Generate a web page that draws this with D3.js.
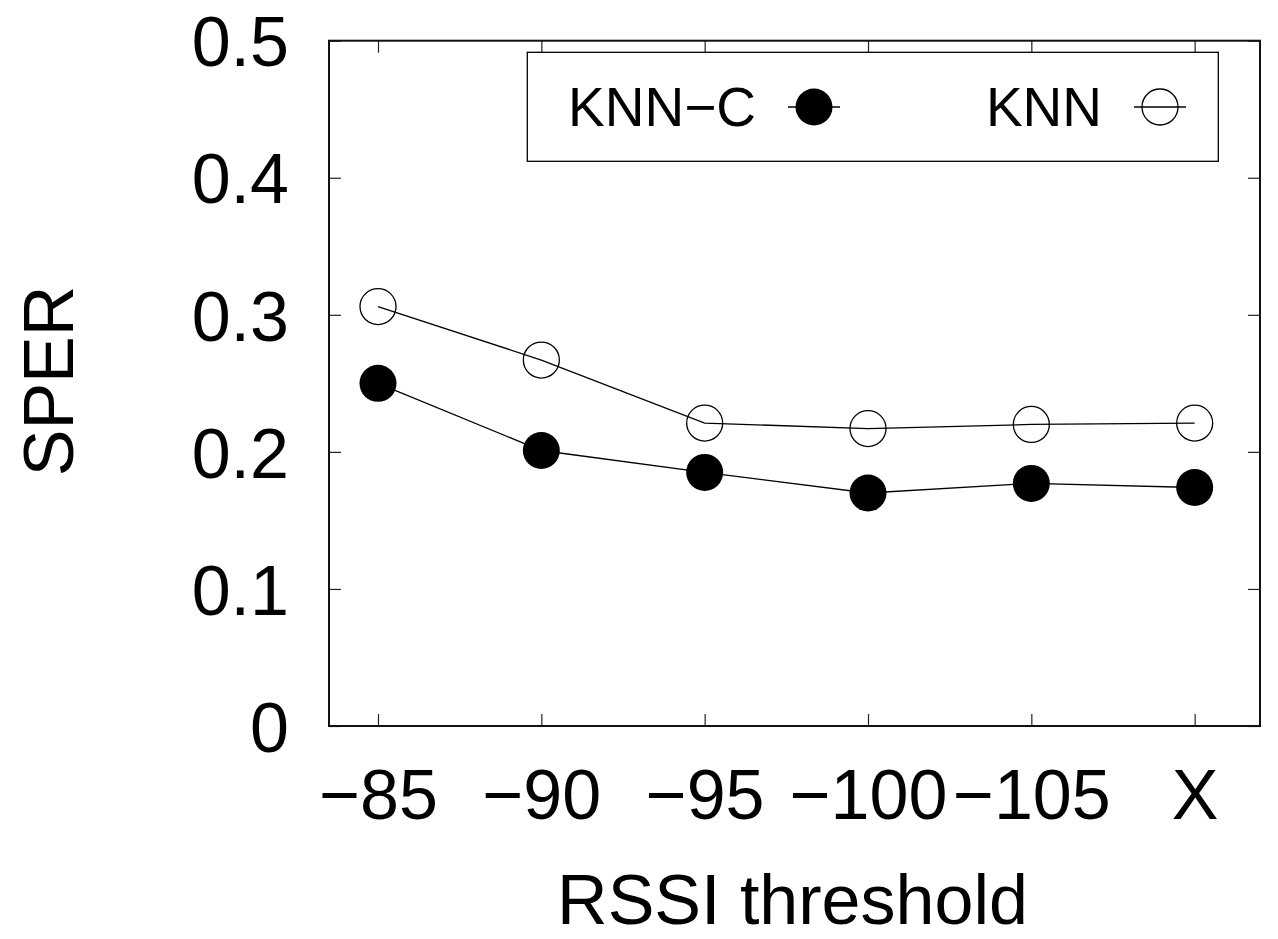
<!DOCTYPE html>
<html>
<head>
<meta charset="utf-8">
<script src="https://cdn.jsdelivr.net/npm/d3@7"></script>
<style>
  body { margin: 0; background: #fff; }
  svg { display: block; font-family: "Liberation Sans", Arial, sans-serif; }
</style>
</head>
<body>
<svg id="chart" width="1278" height="939"></svg>
<script>
// categories along x (RSSI thresholds)
const thresholds = ['\u221285', '\u221290', '\u221295', '\u2212100', '\u2212105', 'X'];
// SPER values
const knnC = [0.250, 0.201, 0.185, 0.170, 0.177, 0.174];
const knn = [0.306, 0.267, 0.221, 0.217, 0.220, 0.221];
const yTicks = [0, 0.1, 0.2, 0.3, 0.4, 0.5];
const seriesNames = ['KNN\u2212C', 'KNN'];

const plotLeft = 329, plotRight = 1260, plotTop = 40.7, plotBottom = 726;

const svg = d3.select('#chart');

const x = d3.scaleLinear().domain([-0.3, 5.4]).range([plotLeft, plotRight]);
const y = d3.scaleLinear().domain([0, 0.5]).range([plotBottom, plotTop]);
const idx = thresholds.map((_, i) => i);

function styleAxis(g) {
  g.select('.domain').remove();
  g.selectAll('.tick line').attr('stroke', '#222').attr('stroke-width', 1.2);
}

// bottom axis with labels
svg.append('g')
  .attr('transform', `translate(0,${plotBottom})`)
  .call(d3.axisBottom(x).tickValues(idx).tickSize(-12).tickFormat((i) => thresholds[i]))
  .call(styleAxis)
  .call((g) => g.selectAll('.tick text')
    .attr('y', 93).attr('dy', 0)
    .attr('font-size', 70).attr('fill', '#000'));

// top mirror ticks
svg.append('g')
  .attr('transform', `translate(0,${plotTop})`)
  .call(d3.axisTop(x).tickValues(idx).tickSize(-12).tickFormat(''))
  .call(styleAxis);

// left axis with labels
svg.append('g')
  .attr('transform', `translate(${plotLeft},0)`)
  .call(d3.axisLeft(y).tickValues(yTicks).tickSize(-12).tickFormat(d3.format('')))
  .call(styleAxis)
  .call((g) => g.selectAll('.tick text')
    .attr('x', -40).attr('dy', '0.36em')
    .attr('font-size', 70).attr('fill', '#000'));

// right mirror ticks
svg.append('g')
  .attr('transform', `translate(${plotRight},0)`)
  .call(d3.axisRight(y).tickValues(yTicks).tickSize(-12).tickFormat(''))
  .call(styleAxis);

// frame
svg.append('rect')
  .attr('x', plotLeft).attr('y', plotTop)
  .attr('width', plotRight - plotLeft).attr('height', plotBottom - plotTop)
  .attr('fill', 'none').attr('stroke', '#111').attr('stroke-width', 2);

// axis titles
svg.append('text')
  .attr('x', (plotLeft + plotRight) / 2 - 2).attr('y', 924)
  .attr('text-anchor', 'middle').attr('font-size', 70)
  .text('RSSI threshold');

svg.append('text')
  .attr('transform', 'translate(73,381) rotate(-90)')
  .attr('text-anchor', 'middle').attr('font-size', 70)
  .text('SPER');

// series lines
const line = d3.line().x((d, i) => x(i)).y((d) => y(d));

svg.append('path').datum(knn)
  .attr('d', line).attr('fill', 'none')
  .attr('stroke', '#000').attr('stroke-width', 1.3);
svg.append('path').datum(knnC)
  .attr('d', line).attr('fill', 'none')
  .attr('stroke', '#000').attr('stroke-width', 1.3);

// markers
svg.append('g').selectAll('circle')
  .data(knn).enter().append('circle')
  .attr('cx', (d, i) => x(i)).attr('cy', (d) => y(d)).attr('r', 18)
  .attr('fill', 'none').attr('stroke', '#000').attr('stroke-width', 1.3);

svg.append('g').selectAll('circle')
  .data(knnC).enter().append('circle')
  .attr('cx', (d, i) => x(i)).attr('cy', (d) => y(d)).attr('r', 18.5)
  .attr('fill', '#000');

// legend
svg.append('rect')
  .attr('x', 527.3).attr('y', 52.3).attr('width', 691).attr('height', 109)
  .attr('fill', '#fff').attr('stroke', '#000').attr('stroke-width', 1.3);

const legendX = [814, 1160];
const legendY = 107;
seriesNames.forEach((name, k) => {
  const cx = legendX[k];
  svg.append('text')
    .attr('x', cx - 58).attr('y', legendY + 19)
    .attr('text-anchor', 'end').attr('font-size', 55)
    .text(name);
  svg.append('line')
    .attr('x1', cx - 26).attr('x2', cx + 26)
    .attr('y1', legendY).attr('y2', legendY)
    .attr('stroke', '#000').attr('stroke-width', 1.3);
  svg.append('circle')
    .attr('cx', cx).attr('cy', legendY).attr('r', k === 0 ? 18.5 : 18)
    .attr('fill', k === 0 ? '#000' : 'none')
    .attr('stroke', '#000').attr('stroke-width', k === 0 ? 0 : 1.3);
});
</script>
</body>
</html>
